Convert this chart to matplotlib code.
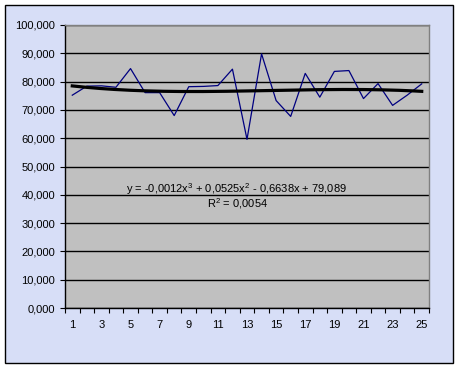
import matplotlib
matplotlib.use("Agg")
import matplotlib.pyplot as plt
import numpy as np
from matplotlib.patches import Rectangle
from matplotlib.ticker import FuncFormatter

# values
days = list(range(1, 26))
values = [75.2, 78.4, 78.5, 78.0, 84.6, 76.1, 76.1, 68.0, 78.2, 78.3,
          78.6, 84.4, 59.6, 89.8, 73.3, 67.7, 82.9, 74.5, 83.6, 83.9,
          74.0, 79.3, 71.6, 75.2, 79.2]
# trendline coefficients as printed on the chart (x^3, x^2, x, 1)
trend_coef = [-0.0012, 0.0525, -0.6638, 79.089]
trend_label = "y = -0,0012x$^3$ + 0,0525x$^2$ - 0,6638x + 79,089"
r2_label = "R$^2$ = 0,0054"

plt.rcParams['font.family'] = ['Liberation Sans', 'DejaVu Sans']
plt.rcParams['mathtext.fontset'] = 'custom'
plt.rcParams['mathtext.rm'] = 'Liberation Sans'

fig = plt.figure(figsize=(4.61, 3.69), dpi=100, facecolor='white')
fig.patches.append(Rectangle((5 / 461, 6 / 369), 448 / 461, 358 / 369,
                             transform=fig.transFigure, facecolor='#D7DEF7',
                             edgecolor='black', linewidth=1.0, zorder=-5))

ax = fig.add_axes([65 / 461, 61 / 369, 364 / 461, 283 / 369])
ax.set_facecolor('#C0C0C0')

x = np.array(days)
ax.plot(x, values, color='#000080', linewidth=0.9, zorder=3)

xt = np.linspace(1, 25, 200)
ax.plot(xt, np.polyval(trend_coef, xt), color='black', linewidth=2.3, zorder=4)

ax.set_xlim(0.5, 25.5)
ax.set_ylim(0, 100)
ax.set_yticks(np.arange(0, 101, 10))
ax.yaxis.set_major_formatter(FuncFormatter(lambda v, p: "%d,%03d" % (int(round(v)), 0)))
ax.set_xticks(np.arange(0.5, 25.6, 1))
ax.set_xticklabels([])
ax.set_xticks(days[::2], minor=True)
ax.set_xticklabels([str(d) for d in days[::2]], minor=True)
ax.tick_params(axis='x', which='major', direction='out', length=3.5, width=0.8)
ax.tick_params(axis='x', which='minor', length=0, pad=8.5, labelsize=8)
ax.tick_params(axis='y', direction='out', length=3.5, width=0.8, pad=3.5, labelsize=8)

ax.grid(axis='y', color='black', linewidth=1.0, zorder=1)
ax.set_axisbelow(True)
for s in ['top', 'right']:
    ax.spines[s].set_color('#808080')
    ax.spines[s].set_linewidth(1.0)
for s in ['left', 'bottom']:
    ax.spines[s].set_color('black')
    ax.spines[s].set_linewidth(1.0)

ax.text(12.25, 40.7, trend_label, ha='center', va='baseline', fontsize=8, zorder=5)
ax.text(12.35, 35.5, r2_label, ha='center', va='baseline', fontsize=8, zorder=5)

fig.savefig('out.png', dpi=100, facecolor='white')
